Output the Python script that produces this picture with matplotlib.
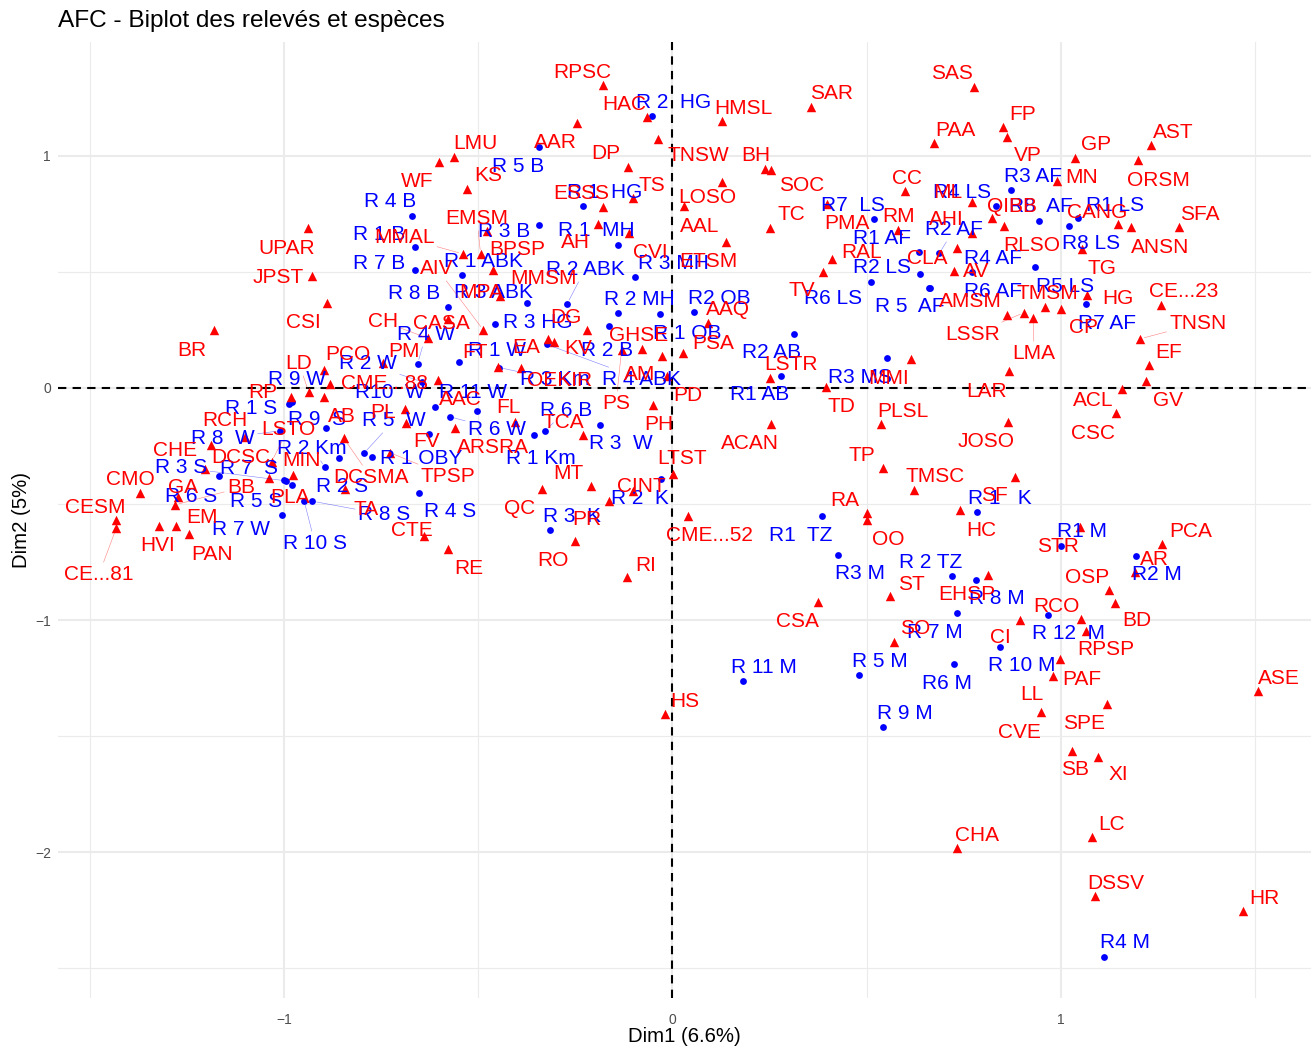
import matplotlib
matplotlib.use("Agg")
import matplotlib.pyplot as plt

plt.rcParams['font.family'] = ['Liberation Sans', 'DejaVu Sans']

species_names = ["UPAR","JPST","CSI","BR","PCO","LD","CME...88","RP","AB","DCSMA","RCH","CHE","LSTO","DCSC","PLA","MIN","CMO","CESM","CE...81","GA","BB","EM","HVI","PAN","TA","PL","FV","AAC","ARSRA","FL","TPSP","TCA","PH","MT","QC","PR","CINT","RO","RI","RE","CTE","LTST","AAR","TNSW","LMU","WF","KS","DP","TS","ESSS","AH","CVI","MMAL","EMSM","BPSP","MMSM","MPA","AIV","DG","EA","KV","CH","CASA","PM","FT","OEKIR","PS","GHSE","AM","PD","RPSC","HAC","PSA","AAQ","SAR","HMSL","SAS","PAA","BH","SOC","AAL","LOSO","TC","ETSM","CC","ML","PMA","RM","AHI","CLA","RAL","AV","TV","AMSM","LSSR","TMSM","LMA","CP","HG","TG","CANG","ANSN","SFA","ORSM","AST","GP","MN","FP","VP","QIBB","RLSO","CE...23","TNSN","EF","GV","ACL","LAR","CSC","JOSO","LSTR","MMI","TD","ACAN","PLSL","TP","TMSC","SF","HC","RA","OO","ST","CSA","EHSP","SO","CI","LL","CVE","PAF","RPSP","RCO","BD","OSP","STR","AR","PCA","SPE","SB","XI","ASE","HR","DSSV","LC","CHA","HS","CME...52"]
species_dim1 = [-0.937,-0.927,-0.890,-1.180,-0.896,-0.936,-0.882,-0.982,-0.898,-0.846,-1.100,-1.187,-1.032,-1.203,-1.038,-0.976,-1.371,-1.432,-1.432,-1.272,-1.281,-1.278,-1.323,-1.245,-0.843,-0.689,-0.687,-0.604,-0.560,-0.405,-0.727,-0.231,-0.049,-0.211,-0.337,-0.163,-0.101,-0.251,-0.118,-0.577,-0.640,0.002,-0.247,-0.037,-0.562,-0.601,-0.530,-0.115,-0.101,-0.180,-0.193,-0.112,-0.540,-0.494,-0.478,-0.461,-0.444,-0.487,-0.221,-0.320,-0.304,-0.629,-0.579,-0.744,-0.448,-0.391,-0.131,-0.079,-0.028,-0.015,-0.180,-0.066,0.028,0.092,0.357,0.128,0.776,0.672,0.238,0.254,0.128,0.030,0.251,0.138,0.598,0.772,0.397,0.581,0.770,0.732,0.410,0.725,0.388,0.861,0.905,0.959,0.929,0.999,1.068,1.053,1.147,1.180,1.304,1.198,1.232,1.036,0.990,0.850,0.862,0.822,0.853,1.257,1.204,1.226,1.219,1.157,0.865,1.142,0.864,0.251,0.613,0.395,0.254,0.537,0.543,0.622,0.882,0.740,0.500,0.500,0.561,0.375,0.813,0.570,0.894,0.979,0.948,0.997,1.064,1.051,1.138,1.124,1.049,1.190,1.260,1.118,1.028,1.096,1.507,1.468,1.088,1.080,0.732,-0.019,0.040]
species_dim2 = [0.688,0.483,0.368,0.250,0.078,-0.019,0.017,-0.037,-0.037,-0.217,-0.210,-0.247,-0.318,-0.349,-0.387,-0.376,-0.451,-0.569,-0.605,-0.469,-0.504,-0.594,-0.595,-0.631,-0.437,-0.091,-0.150,0.034,-0.174,-0.145,-0.279,-0.203,-0.073,-0.422,-0.434,-0.486,-0.443,-0.659,-0.813,-0.695,-0.637,-0.371,1.144,1.073,0.997,0.973,0.858,0.954,0.820,0.781,0.708,0.667,0.578,0.578,0.678,0.509,0.397,0.250,0.250,0.210,0.200,0.214,0.296,0.106,0.089,0.088,0.164,0.167,0.138,0.052,1.306,1.169,0.152,0.279,1.211,1.151,1.299,1.055,0.944,0.940,0.887,0.784,0.691,0.631,0.848,0.803,0.792,0.681,0.669,0.602,0.555,0.506,0.501,0.316,0.325,0.350,0.300,0.339,0.402,0.598,0.706,0.693,0.695,0.983,1.047,0.993,0.894,1.126,1.083,0.731,0.698,0.358,0.212,0.099,0.030,-0.006,0.073,-0.108,-0.147,0.044,0.124,0.003,-0.155,-0.155,-0.346,-0.440,-0.382,-0.526,-0.538,-0.569,-0.897,-0.922,-0.806,-1.096,-1.000,-1.241,-1.398,-1.169,-1.046,-0.997,-0.928,-0.871,-0.598,-0.792,-0.672,-1.362,-1.563,-1.589,-1.306,-2.254,-2.190,-1.935,-1.983,-1.405,-0.552]

site_names = ["R 1 S","R 9 W","R 9  S","R 8  W","R 3 S","R 7  S","R 6 S","R 5 S","R 7 W","R 10 S","R 8 S","R 2 Km","R 2 S","R 5  W","R 1 OBY","R 4 S","R 3  K","R 2  K","R10  W","R 6 W","R 11 W","","R 1 Km","R 6 B","R 3  W","R 4 W","R 2 W","R 1 W","R 3 Km","R 4 ABK","R 3 HG","R 8 B","R 3 ABK","R 2 ABK","R 1 ABK","R 7 B","R 1 B","R 4 B","R 3 B","R 5 B","R 1  HG","R 1  MH","R 3 MH","R 2 MH","R 1 OB","R 2 B","R 2  HG","R2 OB","R2 AB","R1 AB","R3 MS","R7  LS","R1 AF","R2 AF","R2 LS","R6 LS","R 5  AF","R6 AF","R4 AF","R4 LS","R3 AF","R8  AF","R1 LS","R8 LS","R5 LS","R7 AF","R1  TZ","R3 M","R 2 TZ","R 8 M","R 7 M","R 10 M","R 5 M","R6 M","R 9 M","R 11 M","R 12  M","R1 M","R2 M","R4 M","R 1   K"]
site_dim1 = [-0.987,-0.979,-0.892,-1.009,-0.996,-0.999,-1.167,-0.980,-1.006,-0.948,-0.927,-0.894,-0.858,-0.794,-0.774,-0.653,-0.315,-0.030,-0.611,-0.573,-0.504,-0.626,-0.356,-0.328,-0.187,-0.656,-0.646,-0.549,-0.446,-0.324,-0.457,-0.579,-0.374,-0.271,-0.543,-0.664,-0.662,-0.670,-0.343,-0.343,-0.230,-0.141,-0.097,-0.140,-0.032,-0.163,-0.054,0.055,0.312,0.280,0.552,0.519,0.634,0.687,0.510,0.637,0.660,0.662,0.772,0.832,0.871,0.943,1.043,1.021,0.934,1.064,0.385,0.426,0.720,0.781,0.732,0.844,0.480,0.725,0.543,0.181,0.966,1.000,1.192,1.111,0.783]
site_dim2 = [-0.069,-0.060,-0.172,-0.184,-0.400,-0.397,-0.381,-0.419,-0.547,-0.488,-0.488,-0.342,-0.303,-0.281,-0.299,-0.451,-0.613,-0.394,-0.081,-0.124,-0.099,-0.200,-0.203,-0.185,-0.158,0.105,0.027,0.112,0.088,0.188,0.276,0.350,0.366,0.363,0.486,0.507,0.609,0.743,0.701,1.038,0.783,0.616,0.477,0.323,0.320,0.269,1.174,0.328,0.233,0.053,0.128,0.728,0.588,0.581,0.458,0.493,0.432,0.430,0.501,0.786,0.852,0.721,0.733,0.700,0.523,0.361,-0.552,-0.719,-0.812,-0.826,-0.971,-1.116,-1.238,-1.191,-1.463,-1.263,-0.977,-0.681,-0.725,-2.453,-0.534]

# repelled label placement, image pixels of the text centre (layout, not data)
species_label_px = {"UPAR":(287,247),"JPST":(278,276),"CSI":(303,321),"BR":(192,349),"PCO":(348,353),"LD":(299,362),"CME...88":(384,382),"RP":(263,391),"AB":(342,415),"DCSMA":(371,476),"RCH":(225,419),"CHE":(175,449),"LSTO":(288,428),"DCSC":(241,456),"PLA":(290,496),"MIN":(302,459),"CMO":(130,478),"CESM":(95,506),"CE...81":(99,573),"GA":(183,486),"BB":(241,486),"EM":(202,516),"HVI":(158,544),"PAN":(212,553),"TA":(366,508),"PL":(383,411),"FV":(427,440),"AAC":(460,398),"ARSRA":(493,446),"FL":(508,406),"TPSP":(448,475),"TCA":(563,421),"PH":(659,423),"MT":(568,472),"QC":(520,507),"PR":(587,518),"CINT":(641,485),"RO":(553,559),"RI":(646,564),"RE":(469,567),"CTE":(412,529),"LTST":(682,457),"AAR":(555,141),"TNSW":(698,154),"LMU":(475,142),"WF":(417,180),"KS":(488,174),"DP":(606,152),"TS":(652,184),"ESSS":(581,192),"AH":(575,241),"CVI":(650,251),"MMAL":(404,236),"EMSM":(477,217),"BPSP":(517,248),"MMSM":(543,277),"MPA":(481,291),"AIV":(437,267),"DG":(566,316),"EA":(526,346),"KV":(578,347),"CH":(383,320),"CASA":(441,322),"PM":(404,350),"FT":(475,351),"OEKIR":(560,379),"PS":(616,402),"GHSE":(639,334),"AM":(640,373),"PD":(688,394),"RPSC":(582,71),"HAC":(624,103),"PSA":(713,342),"AAQ":(728,308),"SAR":(832,92),"HMSL":(743,107),"SAS":(952,72),"PAA":(955,129),"BH":(756,154),"SOC":(802,184),"AAL":(700,225),"LOSO":(707,196),"TC":(791,213),"ETSM":(708,260),"CC":(907,177),"ML":(948,191),"PMA":(847,222),"RM":(899,215),"AHI":(946,218),"CLA":(927,257),"RAL":(862,251),"AV":(976,270),"TV":(802,289),"AMSM":(970,300),"LSSR":(973,333),"TMSM":(1047,292),"LMA":(1034,352),"CP":(1083,326),"HG":(1118,297),"TG":(1102,267),"CANG":(1097,211),"ANSN":(1160,246),"SFA":(1200,213),"ORSM":(1158,179),"AST":(1173,131),"GP":(1096,143),"MN":(1082,176),"FP":(1023,113),"VP":(1028,154),"QIBB":(1012,205),"RLSO":(1032,244),"CE...23":(1184,290),"TNSN":(1198,322),"EF":(1169,351),"GV":(1168,399),"ACL":(1093,399),"LAR":(987,390),"CSC":(1093,432),"JOSO":(986,440),"LSTR":(791,363),"MMI":(889,377),"TD":(841,405),"ACAN":(750,442),"PLSL":(903,410),"TP":(862,454),"TMSC":(935,475),"SF":(994,494),"HC":(981,529),"RA":(845,499),"OO":(888,538),"ST":(911,583),"CSA":(797,620),"EHSP":(967,593),"SO":(915,627),"CI":(1000,636),"LL":(1032,693),"CVE":(1019,731),"PAF":(1082,678),"RPSP":(1106,648),"RCO":(1056,605),"BD":(1137,619),"OSP":(1087,576),"STR":(1058,545),"AR":(1154,558),"PCA":(1191,530),"SPE":(1084,722),"SB":(1075,768),"XI":(1118,773),"ASE":(1279,677),"HR":(1264,897),"DSSV":(1116,882),"LC":(1112,823),"CHA":(977,834),"HS":(685,700),"CME...52":(709,534)}
site_label_px = {"R 1 S":(251,407),"R 9 W":(297,378),"R 9  S":(317,418),"R 8  W":(223,437),"R 3 S":(181,466),"R 7  S":(249,467),"R 6 S":(191,495),"R 5 S":(256,500),"R 7 W":(241,528),"R 10 S":(315,542),"R 8 S":(384,513),"R 2 Km":(312,447),"R 2 S":(342,485),"R 5  W":(394,419),"R 1 OBY":(421,457),"R 4 S":(450,510),"R 3  K":(572,515),"R 2  K":(640,497),"R10  W":(390,391),"R 6 W":(497,428),"R 11 W":(473,391),"R 1 Km":(541,457),"R 6 B":(566,409),"R 3  W":(621,442),"R 4 W":(426,333),"R 2 W":(368,362),"R 1 W":(497,349),"R 3 Km":(555,378),"R 4 ABK":(642,378),"R 3 HG":(538,321),"R 8 B":(414,292),"R 3 ABK":(493,291),"R 2 ABK":(585,268),"R 1 ABK":(483,260),"R 7 B":(379,262),"R 1 B":(379,233),"R 4 B":(390,200),"R 3 B":(504,230),"R 5 B":(518,165),"R 1  HG":(605,191),"R 1  MH":(596,229),"R 3 MH":(673,262),"R 2 MH":(639,298),"R 1 OB":(687,332),"R 2 B":(607,349),"R 2  HG":(674,101),"R2 OB":(719,297),"R2 AB":(772,351),"R1 AB":(760,393),"R3 MS":(860,376),"R7  LS":(853,204),"R1 AF":(882,237),"R2 AF":(954,228),"R2 LS":(882,266),"R6 LS":(833,297),"R 5  AF":(910,305),"R6 AF":(993,290),"R4 AF":(993,257),"R4 LS":(962,191),"R3 AF":(1033,175),"R8  AF":(1041,205),"R1 LS":(1115,204),"R8 LS":(1091,242),"R5 LS":(1065,285),"R7 AF":(1107,322),"R1  TZ":(801,534),"R3 M":(860,572),"R 2 TZ":(931,561),"R 8 M":(997,597),"R 7 M":(935,631),"R 10 M":(1022,664),"R 5 M":(880,660),"R6 M":(947,682),"R 9 M":(905,712),"R 11 M":(764,666),"R 12  M":(1069,632),"R1 M":(1082,530),"R2 M":(1157,573),"R4 M":(1125,941),"R 1   K":(1000,497)}
connected = {"LD","DCSMA","LSTO","CE...81","BB","TPSP","MMAL","EMSM","AIV","CH","PS","LSSR","LMA","TNSN","R 3 S","R 8  W","R 2 Km","R 10 S","R 8 S","R 5  W","R 6 W","R 6 B","R 4 W","R 2 W","R 3 Km","R 4 ABK","R 2 ABK","R2 AF"}

W, H = 1311, 1050
fig = plt.figure(figsize=(W/100, H/100), dpi=100)
ax = fig.add_axes([58/W, 1-998/H, (1311-58)/W, (998-42)/H])
ax.set_xlim(-1.5817, 1.6435)
ax.set_ylim(-2.629, 1.491)

for s in ax.spines.values():
    s.set_visible(False)
ax.set_axisbelow(True)
ax.set_xticks([-1, 0, 1])
ax.set_yticks([-2, -1, 0, 1])
ax.set_xticks([-1.5, -0.5, 0.5, 1.5], minor=True)
ax.set_yticks([-2.5, -1.5, -0.5, 0.5], minor=True)
ax.grid(True, which='major', color='#ebebeb', lw=1.5)
ax.grid(True, which='minor', color='#ebebeb', lw=0.8)
ax.tick_params(which='both', length=0)
ax.tick_params(axis='both', labelsize=10, labelcolor='#4d4d4d')
ax.tick_params(axis='x', pad=11)
ax.tick_params(axis='y', pad=5)
ax.set_xlabel("Dim1 (6.6%)", fontsize=14.7, labelpad=0)
ax.set_ylabel("Dim2 (5%)", fontsize=14.7, labelpad=3)
ax.axhline(0, color='black', ls=(0, (4, 3)), lw=1.5, zorder=2)
ax.axvline(0, color='black', ls=(0, (4, 3)), lw=1.5, zorder=2)

ax.scatter(site_dim1, site_dim2, s=24, c='#0000ff', marker='o', linewidths=0, zorder=3)
ax.scatter(species_dim1, species_dim2, s=46, c='#ff0000', marker='^', linewidths=0, zorder=3)

def place(names, xs, ys, pos, colour):
    for n, x, y in zip(names, xs, ys):
        if n not in pos:
            continue
        px, py = pos[n]
        arrow = None
        if n in connected:
            arrow = dict(arrowstyle='-', color=colour, lw=0.4, alpha=0.5, shrinkA=0, shrinkB=3)
        ax.annotate(n, xy=(x, y), xycoords='data', xytext=(px, H-py-1.5), textcoords='figure pixels',
                    ha='center', va='center', color=colour, fontsize=15, zorder=4, arrowprops=arrow)

place(site_names, site_dim1, site_dim2, site_label_px, '#0000ff')
place(species_names, species_dim1, species_dim2, species_label_px, '#ff0000')

fig.text(58/W, 1-21.5/H, "AFC - Biplot des relevés et espèces", fontsize=17.6, ha='left', va='center', color='black')
fig.savefig("out.png", dpi=100)
